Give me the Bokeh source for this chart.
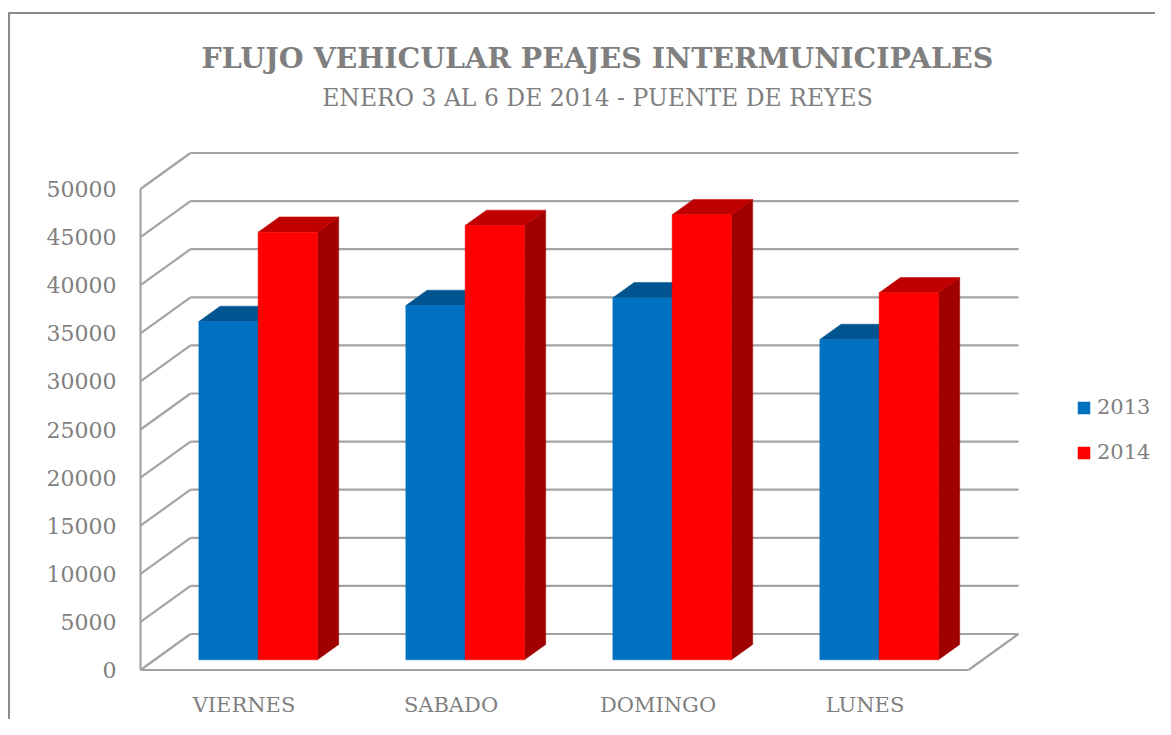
from bokeh.plotting import figure
from bokeh.models import (FixedTicker, Legend, LegendItem, Label,
                          Range1d, BasicTickFormatter)
from bokeh.embed import file_html
from bokeh.resources import INLINE

# ---------------- data ----------------
categories = ["VIERNES", "SABADO", "DOMINGO", "LUNES"]
series_names = ["2013", "2014"]
values_2013 = [35170, 36830, 37630, 33300]
values_2014 = [44450, 45150, 46260, 38150]
y_ticks = [0, 5000, 10000, 15000, 20000, 25000, 30000, 35000, 40000, 45000, 50000]
title_text = "FLUJO VEHICULAR PEAJES INTERMUNICIPALES"
subtitle_text = "ENERO 3 AL 6 DE 2014 - PUENTE DE REYES"

# ---------------- layout / style ----------------
W, H = 1155, 719
FRAME_LEFT = 136
FRAME_BOTTOM_BORDER = 44
frame_w = W - FRAME_LEFT
frame_h = H - FRAME_BOTTOM_BORDER

PX_PER_CAT = 207.0
PX_PER_UNIT = 481.0 / 50000.0
origin_cx = 140.0     # canvas px of x=0
origin_cy = 669.5     # canvas px of y=0 (front plane)
x_start = -(origin_cx - FRAME_LEFT) / PX_PER_CAT
x_end = x_start + frame_w / PX_PER_CAT
y_start = -(frame_h - origin_cy) / PX_PER_UNIT
y_end = y_start + frame_h / PX_PER_UNIT


def X(cx):
    return x_start + (cx - FRAME_LEFT) / PX_PER_CAT


def Y(cy):
    return y_start + (frame_h - cy) / PX_PER_UNIT


DX = 50.0 / PX_PER_CAT
DY = 36.0 / PX_PER_UNIT
F0, F1 = 0.283, 0.708          # bar depth (front/back) as fraction of floor depth
BAR_W = 0.2865                 # bar width in category units
TEXT = "#7F7F7F"
GRID = "#A3A3A3"
BORDER = "#8C8C8C"
FONT = "DejaVu Serif"

p = figure(width=W, height=H, output_backend="svg", toolbar_location=None,
           x_range=Range1d(x_start, x_end), y_range=Range1d(y_start, y_end),
           min_border_left=FRAME_LEFT, min_border_right=0, min_border_top=0,
           min_border_bottom=FRAME_BOTTOM_BORDER)
p.outline_line_color = None
p.background_fill_color = None
p.border_fill_color = None
p.xgrid.visible = False
p.ygrid.visible = False
# chart-area border (left and top edges)
p.styles = {
    "background-color": "white",
    "background-image": f"linear-gradient({BORDER},{BORDER}), linear-gradient({BORDER},{BORDER})",
    "background-size": "2px 100%, 100% 2px",
    "background-position": "8px 12px, 8px 12px",
    "background-repeat": "no-repeat",
}

# ---------------- walls / floor ----------------
ncat = len(categories)
sx0, sy0, sx1, sy1 = [], [], [], []
for v in y_ticks:
    sx0.append(0); sy0.append(v); sx1.append(DX); sy1.append(v + DY)                 # side wall
    sx0.append(DX); sy0.append(v + DY); sx1.append(ncat + DX); sy1.append(v + DY)    # back wall
sx0 += [0, ncat, 0]
sy0 += [0, 0, 0]
sx1 += [ncat, ncat + DX, 0]
sy1 += [0, DY, y_ticks[-1]]
p.segment(sx0, sy0, sx1, sy1, line_color=GRID, line_width=2.2)

# ---------------- bars ----------------
ddx = (F1 - F0) * DX
ddy = (F1 - F0) * DY
base = F0 * DY
series = [
    (values_2013, "#0070C0", "#00548F", "#004A80", 0),
    (values_2014, "#FF0000", "#C00000", "#A00000", 1),
]
fronts = []
for vals, c_front, c_top, c_side, s in series:
    lefts, rights, tops, bottoms = [], [], [], []
    top_xs, top_ys, side_xs, side_ys = [], [], [], []
    for i, v in enumerate(vals):
        x0 = i + 0.5 - BAR_W + s * BAR_W + F0 * DX
        x1 = x0 + BAR_W
        lefts.append(x0); rights.append(x1)
        bottoms.append(base); tops.append(v + base)
        top_xs.append([x0, x1, x1 + ddx, x0 + ddx])
        top_ys.append([v + base, v + base, v + base + ddy, v + base + ddy])
        side_xs.append([x1, x1 + ddx, x1 + ddx, x1])
        side_ys.append([base, base + ddy, v + base + ddy, v + base])
    p.patches(side_xs, side_ys, fill_color=c_side, line_color=c_side, line_width=0.5)
    p.patches(top_xs, top_ys, fill_color=c_top, line_color=c_top, line_width=0.5)
    r = p.quad(left=lefts, right=rights, bottom=bottoms, top=tops,
               fill_color=c_front, line_color=c_front, line_width=0.5)
    fronts.append(r)

# ---------------- axes ----------------
p.yaxis.ticker = FixedTicker(ticks=y_ticks)
p.yaxis.formatter = BasicTickFormatter(use_scientific=False)
p.xaxis.ticker = FixedTicker(ticks=[i + 0.5 for i in range(ncat)])
p.xaxis.major_label_overrides = {i + 0.5: c for i, c in enumerate(categories)}
for ax in (p.xaxis, p.yaxis):
    ax.axis_line_color = None
    ax.major_tick_line_color = None
    ax.minor_tick_line_color = None
    ax.major_tick_out = 0
    ax.major_tick_in = 0
    ax.major_label_text_font = FONT
    ax.major_label_text_color = TEXT
p.yaxis.major_label_text_font_size = "22px"
p.xaxis.major_label_text_font_size = "21px"
p.yaxis.major_label_standoff = 20
p.xaxis.major_label_standoff = 17

# ---------------- titles ----------------
title_cx = 597
p.add_layout(Label(x=X(title_cx), y=Y(57), text=title_text, text_align="center",
                   text_baseline="alphabetic", text_font=FONT, text_font_style="bold",
                   text_font_size="28.5px", text_color=TEXT))
p.add_layout(Label(x=X(title_cx), y=Y(97), text=subtitle_text, text_align="center",
                   text_baseline="alphabetic", text_font=FONT, text_font_size="23.5px",
                   text_color=TEXT))

# ---------------- legend ----------------
legend = Legend(items=[LegendItem(label=n, renderers=[r]) for n, r in zip(series_names, fronts)],
                location=(940, 211), orientation="vertical",
                glyph_width=15, glyph_height=15, label_standoff=6, spacing=21,
                padding=0, margin=0, border_line_color=None, background_fill_alpha=0,
                label_text_font=FONT, label_text_font_size="21px", label_text_color=TEXT)
p.add_layout(legend)

open("out.html", "w").write(file_html(p, INLINE))
